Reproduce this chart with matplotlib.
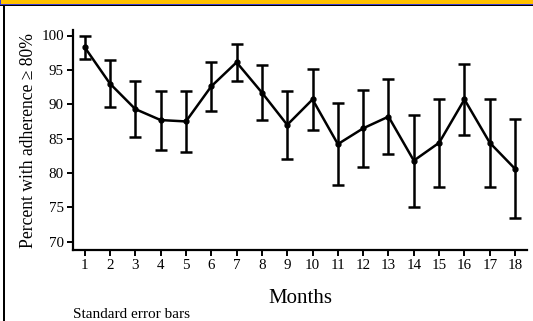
import matplotlib
matplotlib.use("Agg")
import matplotlib.pyplot as plt
from matplotlib.patches import Rectangle

months = list(range(1, 19))
percent = [98.3, 93.0, 89.3, 87.7, 87.5, 92.6, 96.1, 91.7, 87.0, 90.7,
           84.2, 86.5, 88.2, 81.8, 84.4, 90.7, 84.4, 80.6]
std_err = [1.7, 3.4, 4.1, 4.3, 4.4, 3.6, 2.7, 4.0, 5.0, 4.4,
           6.0, 5.6, 5.5, 6.7, 6.4, 5.2, 6.4, 7.2]
y_ticks = [70, 75, 80, 85, 90, 95, 100]

W, H = 533, 321
fig = plt.figure(figsize=(W / 100, H / 100), dpi=100)
fig.patch.set_facecolor("white")

# decorative frame
fig.patches.append(Rectangle((0, 1 - 4 / H), 1, 4 / H, transform=fig.transFigure,
                             facecolor="#FFC000", edgecolor="none", zorder=0))
fig.patches.append(Rectangle((0, 1 - 5 / H), 1, 1 / H, transform=fig.transFigure,
                             facecolor="#3B3BD0", edgecolor="none", zorder=0))
fig.patches.append(Rectangle((0, 1 - 6.2 / H), 1, 1.2 / H, transform=fig.transFigure,
                             facecolor="black", edgecolor="none", zorder=0))
fig.patches.append(Rectangle((0, 1 - 5 / H), 1 / W, 5 / H, transform=fig.transFigure,
                             facecolor="#3B3BD0", edgecolor="none", zorder=0))
fig.patches.append(Rectangle((3 / W, 0), 2 / W, 1 - 5 / H, transform=fig.transFigure,
                             facecolor="black", edgecolor="none", zorder=0))

ax = fig.add_axes([73 / W, 1 - 250 / H, (527 - 73) / W, 220 / H])
ax.errorbar(months, percent, yerr=std_err, color="black", lw=1.8,
            elinewidth=1.8, capsize=4, capthick=1.8,
            marker="o", ms=3.5, mfc="black", mec="black", clip_on=False)

ax.set_xlim(0.54, 18.47)
ax.set_ylim(68.8, 100.8)
ax.set_xticks(months)
ax.set_yticks(y_ticks)
for s in ["top", "right"]:
    ax.spines[s].set_visible(False)
for s in ["left", "bottom"]:
    ax.spines[s].set_linewidth(1.6)
ax.tick_params(axis="both", width=1.4, length=4, labelsize=10.8, pad=2.5)
for lbl in ax.get_xticklabels() + ax.get_yticklabels():
    lbl.set_fontfamily("Liberation Serif")

ax.set_xlabel("Months", fontfamily="Liberation Serif", fontsize=15, labelpad=12)
ax.set_ylabel("Percent with adherence ≥ 80%", fontfamily=["Liberation Serif", "DejaVu Serif"],
              fontsize=12.7, labelpad=3)

fig.text(73 / W, 1 - 315 / H, "Standard error bars", fontfamily="Liberation Serif",
         fontsize=11, va="center", ha="left")

fig.savefig("out.png", dpi=100)
